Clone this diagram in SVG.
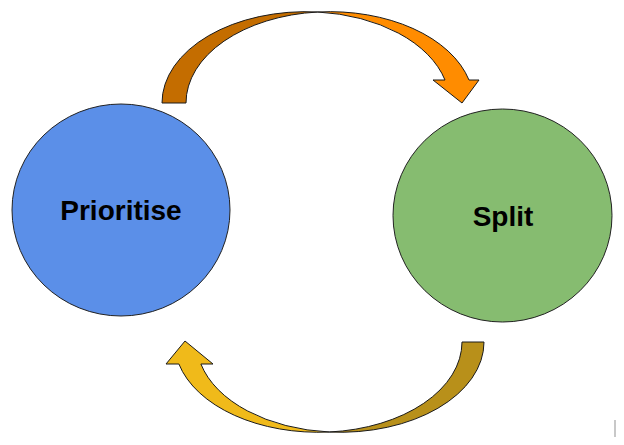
<svg xmlns="http://www.w3.org/2000/svg" width="624" height="445" viewBox="0 0 624 445">
<style>
.node{stroke:#222;stroke-width:1}
.arr{stroke:#1a1a1a;stroke-width:1;stroke-linejoin:miter}
.lbl{font-family:"Liberation Sans",Arial,sans-serif;font-weight:bold;font-size:28px;fill:#000;text-anchor:middle}
</style>
<rect width="624" height="445" fill="#fff"/>
<g id="connectors">
  <g id="arrow-top">
    <path class="arr" fill="#C46D00" d="M162,103 A143.8 91.3 0 0 1 317.8,12 A143.8 91.3 0 0 0 186,103 Z"/>
    <path class="arr" fill="#FF8C00" d="M317.8,12 A143.8 91.3 0 0 1 469,80 L479,80 L462,103 L433,80 L445,80 A143.8 91.3 0 0 0 317.8,12 Z"/>
  </g>
  <g id="arrow-bottom">
    <path class="arr" fill="#B8901A" d="M484,342 A143.7 90.3 0 0 1 329.3,432 A143.7 90.3 0 0 0 462,342 Z"/>
    <path class="arr" fill="#F0BA1A" d="M329.3,432 A143.7 90.3 0 0 1 178.9,364 L166,364 L185,341 L213,364 L200.9,364 A143.7 90.3 0 0 0 329.3,432 Z"/>
  </g>
</g>
<g id="prioritise">
  <ellipse class="node" cx="121" cy="210" rx="109" ry="106" fill="#5B8FE8"/>
  <text class="lbl" x="121" y="220">Prioritise</text>
</g>
<g id="split">
  <ellipse class="node" cx="502.5" cy="215.5" rx="109.5" ry="106.5" fill="#86BC70"/>
  <text class="lbl" x="503" y="226">Split</text>
</g>
<rect x="614" y="420" width="2" height="17" fill="#c8c8c8"/>
</svg>
